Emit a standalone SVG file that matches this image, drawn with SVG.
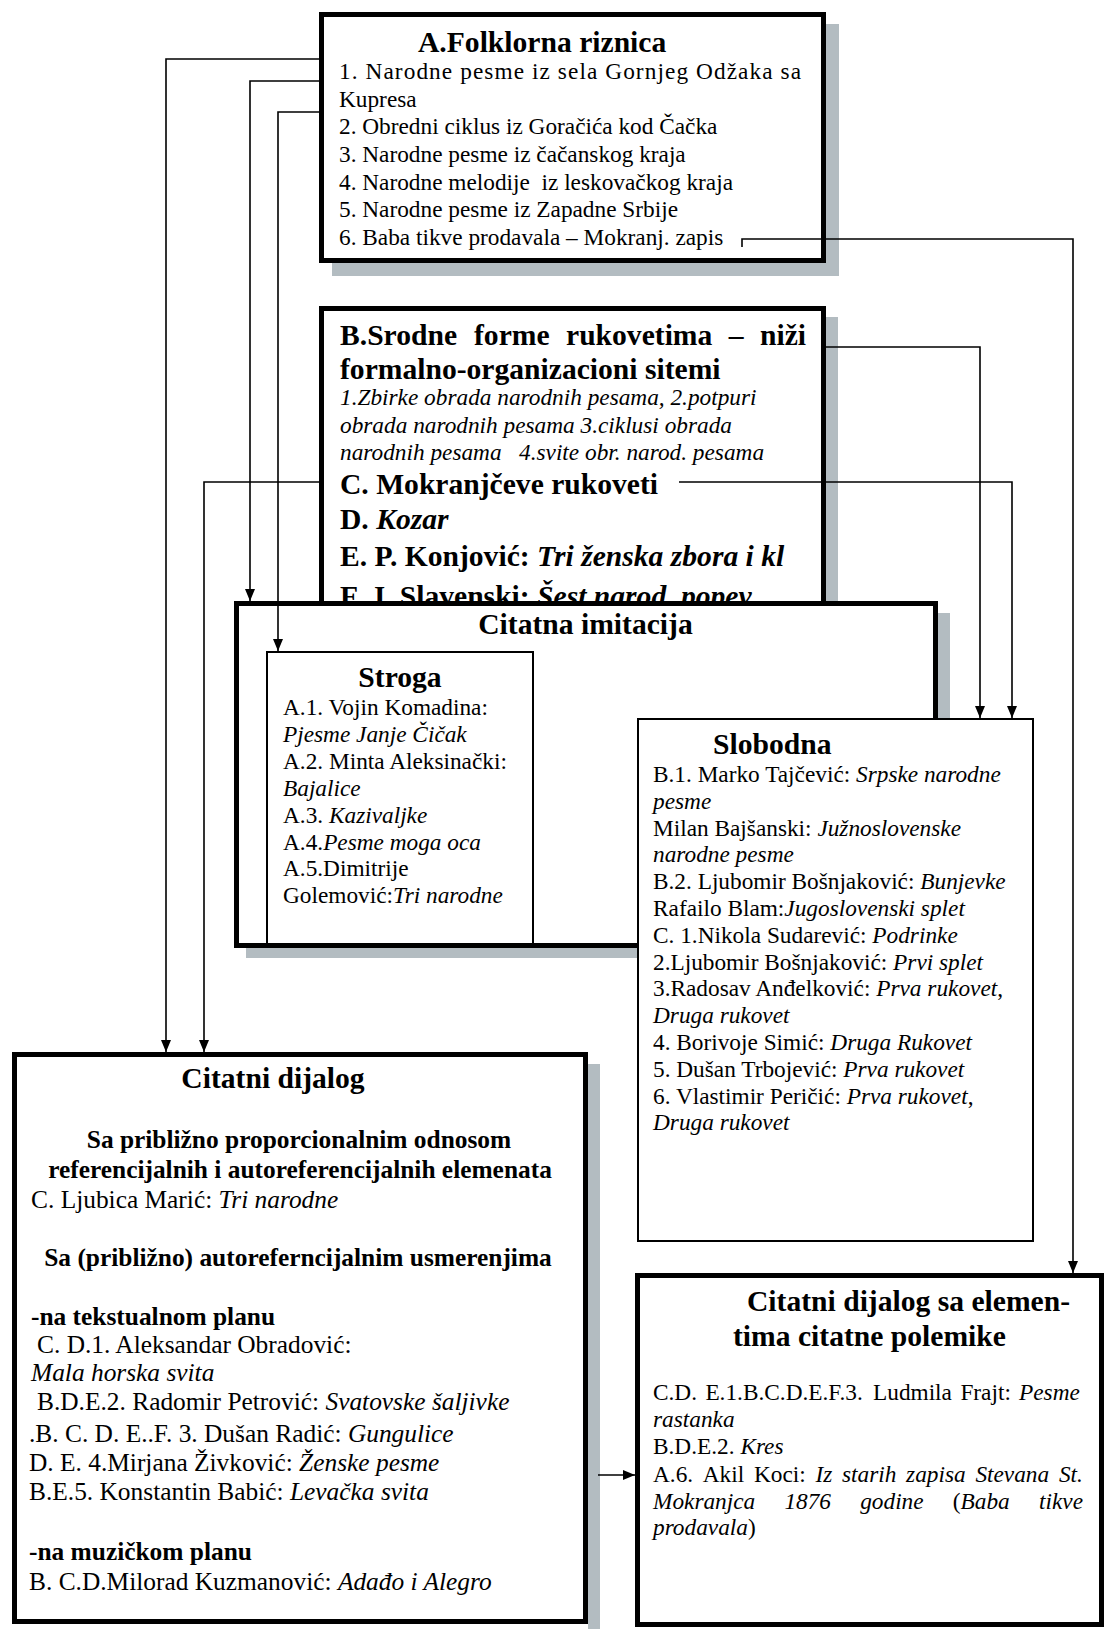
<svg xmlns="http://www.w3.org/2000/svg" width="1105" height="1629" viewBox="0 0 1105 1629">
<defs>
<style>
text{font-family:"Liberation Serif","Times New Roman",serif;fill:#000}
.b14{font-size:29.6px;font-weight:bold}
.b12{font-size:25.4px;font-weight:bold}
.r12{font-size:25.4px}
.r11{font-size:23.3px}
.it{font-style:italic}
.box{fill:#fff;stroke:#000}
.thick{stroke-width:5}
.thin{stroke-width:2}
.shadow{fill:#b3bcc1}
.conn{fill:none;stroke:#000;stroke-width:1.6}
</style>
<clipPath id="clipB"><rect x="319" y="306" width="508" height="295"/></clipPath>
<marker id="arr" viewBox="0 0 12 10" refX="12" refY="5" markerWidth="12" markerHeight="10" markerUnits="userSpaceOnUse" orient="auto">
<path d="M0,0 L12,5 L0,10 z" fill="#000"/>
</marker>
</defs>
<rect width="1105" height="1629" fill="#fff"/>

<g id="nodeA">
<rect class="shadow" x="826" y="24" width="13" height="252"/>
<rect class="shadow" x="332" y="263" width="507" height="13"/>
<rect class="box thick" x="321.5" y="14.5" width="502" height="246"/>
<text class="b14" x="418" y="52">A.Folklorna riznica</text>
<text class="r11" x="339" y="79" textLength="462" lengthAdjust="spacing">1. Narodne pesme iz sela Gornjeg Odžaka sa</text>
<text class="r11" x="339" y="106.5">Kupresa</text>
<text class="r11" x="339" y="134">2. Obredni ciklus iz Goračića kod Čačka</text>
<text class="r11" x="339" y="162">3. Narodne pesme iz čačanskog kraja</text>
<text class="r11" x="339" y="189.5" xml:space="preserve">4. Narodne melodije  iz leskovačkog kraja</text>
<text class="r11" x="339" y="217">5. Narodne pesme iz Zapadne Srbije</text>
<text class="r11" x="339" y="244.5">6. Baba tikve prodavala – Mokranj. zapis</text>
</g>

<g id="nodeB">
<rect class="shadow" x="826" y="317" width="12" height="286"/>
<rect class="box thick" x="321.5" y="308.5" width="502" height="300"/>
<text class="b14" y="345"><tspan x="340">B.Srodne</tspan><tspan x="474">forme</tspan><tspan x="566">rukovetima</tspan><tspan x="728.7">–</tspan><tspan x="760">niži</tspan></text>
<text class="b14" x="340" y="379">formalno-organizacioni sitemi</text>
<text class="r11 it" x="340" y="405">1.Zbirke obrada narodnih pesama, 2.potpuri</text>
<text class="r11 it" x="340" y="433">obrada narodnih pesama 3.ciklusi obrada</text>
<text class="r11 it" y="460"><tspan x="340">narodnih pesama</tspan><tspan x="519">4.svite obr. narod. pesama</tspan></text>
<text class="b14" x="340" y="494">C. Mokranjčeve rukoveti</text>
<text class="b14" x="340" y="529">D. <tspan class="it">Kozar</tspan></text>
<text class="b14" x="340" y="566">E. P. Konjović: <tspan class="it">Tri ženska zbora i kl</tspan></text>
<text class="b14" x="340" y="606" clip-path="url(#clipB)">F. J. Slavenski: <tspan class="it">Šest narod. popev.</tspan></text>
</g>

<g id="nodeCitatnaImitacija">
<rect class="shadow" x="938" y="613" width="12" height="110"/>
<rect class="shadow" x="246" y="947" width="395" height="11"/>
<rect class="box thick" x="236.5" y="603.5" width="699" height="342"/>
<text class="b14" x="585.5" y="634" text-anchor="middle">Citatna imitacija</text>
</g>

<g id="nodeStroga">
<rect class="box thin" x="267" y="652" width="266" height="292"/>
<text class="b14" x="400" y="687" text-anchor="middle">Stroga</text>
<text class="r11" x="283" y="715">A.1. Vojin Komadina:</text>
<text class="r11 it" x="283" y="742">Pjesme Janje Čičak</text>
<text class="r11" x="283" y="769">A.2. Minta Aleksinački:</text>
<text class="r11 it" x="283" y="796">Bajalice</text>
<text class="r11" x="283" y="823">A.3. <tspan class="it">Kazivaljke</tspan></text>
<text class="r11" x="283" y="850">A.4.<tspan class="it">Pesme moga oca</tspan></text>
<text class="r11" x="283" y="876">A.5.Dimitrije</text>
<text class="r11" x="283" y="903">Golemović:<tspan class="it">Tri narodne</tspan></text>
</g>

<g id="nodeSlobodna">
<rect class="box thin" x="638" y="719" width="395" height="522"/>
<text class="b14" x="713" y="754">Slobodna</text>
<text class="r11" x="653" y="782">B.1. Marko Tajčević: <tspan class="it">Srpske narodne</tspan></text>
<text class="r11 it" x="653" y="809">pesme</text>
<text class="r11" x="653" y="835.5">Milan Bajšanski: <tspan class="it">Južnoslovenske</tspan></text>
<text class="r11 it" x="653" y="862">narodne pesme</text>
<text class="r11" x="653" y="889">B.2. Ljubomir Bošnjaković: <tspan class="it">Bunjevke</tspan></text>
<text class="r11" x="653" y="916">Rafailo Blam:<tspan class="it">Jugoslovenski splet</tspan></text>
<text class="r11" x="653" y="943">C. 1.Nikola Sudarević: <tspan class="it">Podrinke</tspan></text>
<text class="r11" x="653" y="969.5">2.Ljubomir Bošnjaković: <tspan class="it">Prvi splet</tspan></text>
<text class="r11" x="653" y="996">3.Radosav Anđelković: <tspan class="it">Prva rukovet</tspan>,</text>
<text class="r11 it" x="653" y="1023">Druga rukovet</text>
<text class="r11" x="653" y="1050">4. Borivoje Simić: <tspan class="it">Druga Rukovet</tspan></text>
<text class="r11" x="653" y="1077">5. Dušan Trbojević: <tspan class="it">Prva rukovet</tspan></text>
<text class="r11" x="653" y="1103.5">6. Vlastimir Peričić: <tspan class="it">Prva rukovet</tspan>,</text>
<text class="r11 it" x="653" y="1130">Druga rukovet</text>
</g>

<g id="nodeCitatniDijalog">
<rect class="shadow" x="588" y="1064" width="12" height="565"/>
<rect class="box thick" x="14.5" y="1054.5" width="571" height="567"/>
<text class="b14" x="273" y="1088" text-anchor="middle">Citatni dijalog</text>
<text class="b12" x="299" y="1148" text-anchor="middle">Sa približno proporcionalnim odnosom</text>
<text class="b12" x="300" y="1178" text-anchor="middle">referencijalnih i autoreferencijalnih elemenata</text>
<text class="r12" x="31" y="1208">C. Ljubica Marić: <tspan class="it">Tri narodne</tspan></text>
<text class="b12" x="298" y="1266" text-anchor="middle">Sa (približno) autoreferncijalnim usmerenjima</text>
<text class="b12" x="31" y="1325">-na tekstualnom planu</text>
<text class="r12" x="37" y="1353">C. D.1. Aleksandar Obradović:</text>
<text class="r12 it" x="31" y="1381">Mala horska svita</text>
<text class="r12" x="37" y="1410">B.D.E.2. Radomir Petrović: <tspan class="it">Svatovske šaljivke</tspan></text>
<text class="r12" x="29" y="1442">.B. C. D. E..F. 3. Dušan Radić: <tspan class="it">Gungulice</tspan></text>
<text class="r12" x="29" y="1471">D. E. 4.Mirjana Živković: <tspan class="it">Ženske pesme</tspan></text>
<text class="r12" x="29" y="1500">B.E.5. Konstantin Babić: <tspan class="it">Levačka svita</tspan></text>
<text class="b12" x="29" y="1560">-na muzičkom planu</text>
<text class="r12" x="29" y="1590">B. C.D.Milorad Kuzmanović: <tspan class="it">Adađo i Alegro</tspan></text>
</g>

<g id="nodeCitatniDijalogPolemika">
<rect class="box thick" x="637.5" y="1275.5" width="464" height="349"/>
<text class="b14" x="747" y="1311">Citatni dijalog sa elemen-</text>
<text class="b14" x="733" y="1346">tima citatne polemike</text>
<text class="r11" y="1400"><tspan x="653">C.D.</tspan><tspan x="705.4">E.1.B.C.D.E.F.3.</tspan><tspan x="873">Ludmila</tspan><tspan x="960.4">Frajt:</tspan><tspan x="1019" class="it">Pesme</tspan></text>
<text class="r11 it" x="653" y="1427">rastanka</text>
<text class="r11" x="653" y="1454">B.D.E.2. <tspan class="it">Kres</tspan></text>
<text class="r11" y="1482"><tspan x="653">A.6.</tspan><tspan x="702.8">Akil</tspan><tspan x="754">Koci:</tspan><tspan x="815.5" class="it">Iz</tspan><tspan x="842" class="it">starih</tspan><tspan x="906.1" class="it">zapisa</tspan><tspan x="975.4" class="it">Stevana</tspan><tspan x="1058.9" class="it">St.</tspan></text>
<text class="r11" y="1509"><tspan x="653" class="it">Mokranjca</tspan><tspan x="784.4" class="it">1876</tspan><tspan x="860.2" class="it">godine</tspan><tspan x="952.8">(</tspan><tspan class="it">Baba</tspan><tspan x="1039" class="it">tikve</tspan></text>
<text class="r11" x="653" y="1535"><tspan class="it">prodavala</tspan>)</text>
</g>

<g id="connectors">
<path class="conn" d="M319,59 H166 V1052" marker-end="url(#arr)"/>
<path class="conn" d="M319,81 H250 V601" marker-end="url(#arr)"/>
<path class="conn" d="M319,112 H278 V651" marker-end="url(#arr)"/>
<path class="conn" d="M742,247 V239 H1073 V1273" marker-end="url(#arr)"/>
<path class="conn" d="M824,347 H980 V718" marker-end="url(#arr)"/>
<path class="conn" d="M679,482 H1012 V718" marker-end="url(#arr)"/>
<path class="conn" d="M319,482 H204 V1052" marker-end="url(#arr)"/>
<path class="conn" d="M598,1475 H635" marker-end="url(#arr)"/>
</g>
</svg>
